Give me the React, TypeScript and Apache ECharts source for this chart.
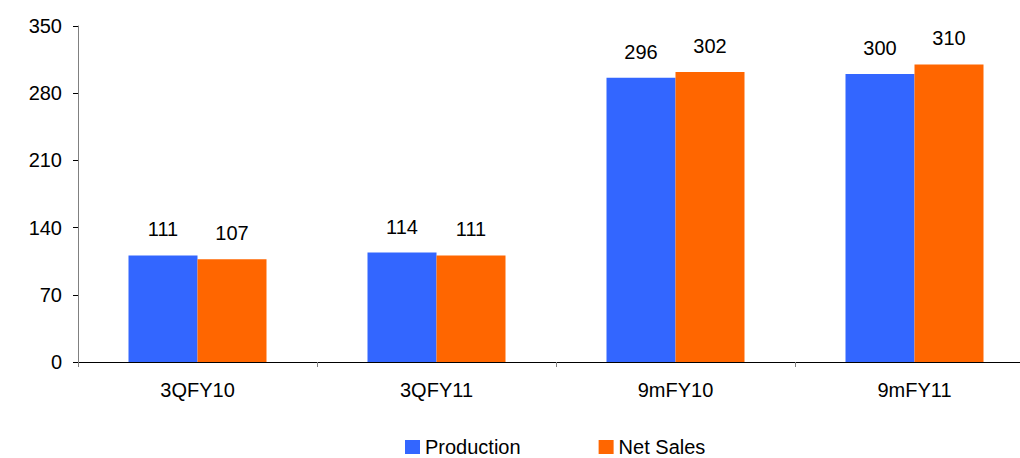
import React, { useEffect, useRef } from "react";
import * as echarts from "echarts";

const categories = ["3QFY10", "3QFY11", "9mFY10", "9mFY11"];
const production = [111, 114, 296, 300];
const netSales = [107, 111, 302, 310];
const seriesNames = ["Production", "Net Sales"];

const FONT = "'Liberation Sans', Arial, sans-serif";

export default function App() {
  const ref = useRef<HTMLDivElement>(null);
  useEffect(() => {
    if (!ref.current) return;
    const chart = echarts.init(ref.current, undefined, { renderer: "svg" });
    const label = {
      show: true,
      position: "top",
      distance: 16,
      color: "#000",
      fontSize: 20,
      fontFamily: FONT,
    };
    chart.setOption({
      animation: false,
      backgroundColor: "#fff",
      textStyle: { fontFamily: FONT },
      grid: { left: 78, right: 0, top: 26, bottom: 96, containLabel: false },
      legend: {
        data: seriesNames,
        left: 405,
        top: 437,
        padding: 0,
        itemWidth: 15,
        itemHeight: 14,
        itemGap: 78,
        icon: "rect",
        textStyle: { fontSize: 20, lineHeight: 18, color: "#000", fontFamily: FONT },
      },
      xAxis: {
        type: "category",
        data: categories,
        axisLine: { lineStyle: { color: "#000", width: 1 } },
        axisTick: { show: true, length: 5, lineStyle: { color: "#808080" } },
        axisLabel: { color: "#000", fontSize: 20, margin: 18, fontFamily: FONT },
      },
      yAxis: {
        type: "value",
        min: 0,
        max: 350,
        interval: 70,
        splitLine: { show: false },
        axisLine: { show: true, lineStyle: { color: "#808080", width: 1 } },
        axisTick: { show: true, length: 5, lineStyle: { color: "#000" } },
        axisLabel: { color: "#000", fontSize: 20, margin: 16, fontFamily: FONT },
      },
      series: [
        {
          name: seriesNames[0],
          type: "bar",
          data: production,
          barWidth: 69,
          barGap: "0%",
          itemStyle: { color: "#3366FF" },
          label,
        },
        {
          name: seriesNames[1],
          type: "bar",
          data: netSales,
          barWidth: 69,
          barGap: "0%",
          itemStyle: { color: "#FF6600" },
          label,
        },
      ],
    });
    return () => chart.dispose();
  }, []);
  return (
    <div style={{ position: "fixed", left: 0, top: 0, width: 1020, height: 458, overflow: "hidden" }}>
      <div ref={ref} style={{ position: "absolute", left: 0, top: 0, width: 1034, height: 458 }} />
    </div>
  );
}
